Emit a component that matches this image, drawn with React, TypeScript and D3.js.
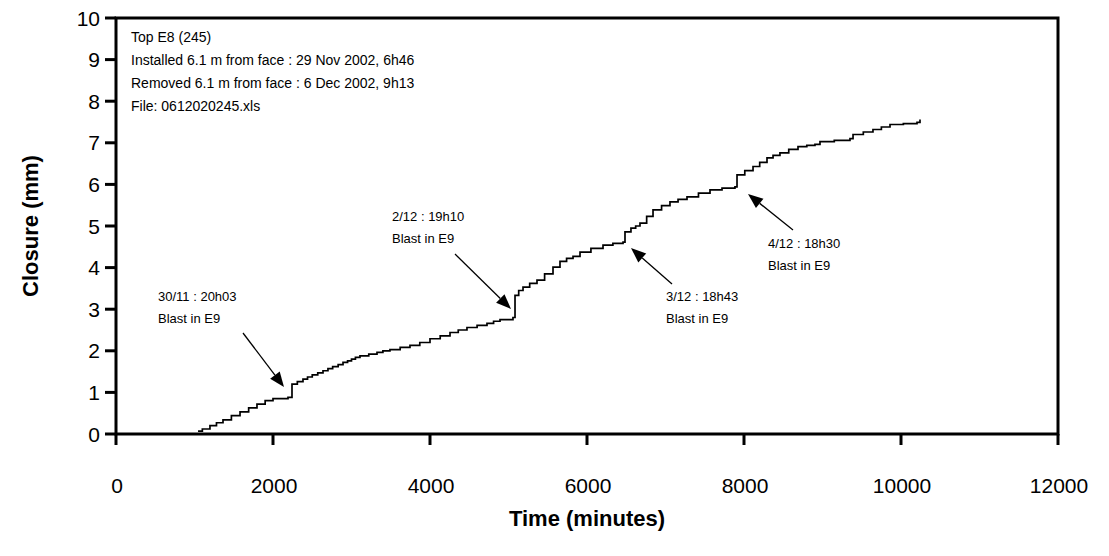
import React from "react";
import * as d3 from "d3";

const times = [1045, 1100, 1197, 1280, 1363, 1470, 1580, 1690, 1796, 1900, 2000, 2191, 2242, 2310, 2382, 2440, 2500, 2570, 2637, 2700, 2760, 2830, 2892, 2950, 3000, 3050, 3108, 3220, 3325, 3400, 3490, 3620, 3745, 3870, 4000, 4130, 4255, 4360, 4471, 4600, 4726, 4810, 4892, 5057, 5083, 5130, 5185, 5270, 5363, 5460, 5567, 5656, 5740, 5822, 5911, 6050, 6204, 6330, 6459, 6484, 6560, 6620, 6675, 6760, 6841, 6950, 7057, 7160, 7274, 7420, 7567, 7720, 7885, 7911, 8010, 8115, 8200, 8293, 8370, 8458, 8570, 8688, 8800, 8904, 8968, 9150, 9350, 9389, 9520, 9643, 9750, 9860, 10030, 10204, 10242];
const closure = [0.07, 0.12, 0.2, 0.27, 0.34, 0.44, 0.53, 0.63, 0.72, 0.8, 0.85, 0.88, 1.2, 1.26, 1.32, 1.37, 1.42, 1.47, 1.52, 1.57, 1.62, 1.67, 1.72, 1.76, 1.8, 1.84, 1.88, 1.92, 1.96, 2.0, 2.03, 2.08, 2.13, 2.2, 2.29, 2.36, 2.44, 2.5, 2.56, 2.61, 2.66, 2.71, 2.75, 2.8, 3.33, 3.45, 3.53, 3.62, 3.7, 3.85, 4.01, 4.15, 4.22, 4.27, 4.37, 4.46, 4.54, 4.58, 4.61, 4.86, 4.95, 5.0, 5.07, 5.23, 5.39, 5.49, 5.58, 5.64, 5.7, 5.79, 5.87, 5.91, 5.94, 6.23, 6.33, 6.43, 6.53, 6.64, 6.7, 6.76, 6.84, 6.91, 6.94, 6.96, 7.03, 7.06, 7.1, 7.2, 7.26, 7.32, 7.38, 7.44, 7.46, 7.49, 7.56];

const xTicks = [0, 2000, 4000, 6000, 8000, 10000, 12000];
const yTicks = [0, 1, 2, 3, 4, 5, 6, 7, 8, 9, 10];

const infoLines = [
  "Top E8 (245)",
  "Installed 6.1 m from face : 29 Nov 2002, 6h46",
  "Removed 6.1 m from face : 6 Dec 2002, 9h13",
  "File: 0612020245.xls",
];

const blastLabels = ["30/11 : 20h03", "2/12 : 19h10", "3/12 : 18h43", "4/12 : 18h30"];
const blastSub = "Blast in E9";

const W = 1109;
const H = 556;
const L = 116, R = 1058, T = 18, B = 434;

export default function App() {
  const x = d3.scaleLinear().domain([0, 12000]).range([L, R]);
  const y = d3.scaleLinear().domain([0, 10]).range([B, T]);
  const data = times.map((t, i) => [t, closure[i]] as [number, number]);
  const line = d3
    .line<[number, number]>()
    .x((d) => x(d[0]))
    .y((d) => y(d[1]))
    .curve(d3.curveStepAfter);

  const ann = [
    { tx: 158, ty: 296, x1: 243, y1: 333, x2: 284, y2: 387 },
    { tx: 392, ty: 216, x1: 455, y1: 254, x2: 511, y2: 309 },
    { tx: 666, ty: 296, x1: 672, y1: 284, x2: 631, y2: 248 },
    { tx: 768, ty: 243, x1: 793, y1: 230, x2: 748, y2: 194 },
  ];

  const arrowHead = (x1: number, y1: number, x2: number, y2: number) => {
    const ang = Math.atan2(y2 - y1, x2 - x1);
    const len = 15, half = 6;
    const bx = x2 - len * Math.cos(ang);
    const by = y2 - len * Math.sin(ang);
    const px = -Math.sin(ang) * half;
    const py = Math.cos(ang) * half;
    return { bx, by, pts: `${x2},${y2} ${bx + px},${by + py} ${bx - px},${by - py}` };
  };

  const font = "Liberation Sans, Arial, sans-serif";

  return (
    <svg width={W} height={H} style={{ position: "absolute", left: 0, top: 0, background: "#fff" }} fontFamily={font}>
      <rect x={0} y={0} width={W} height={H} fill="#fff" />
      <path d={line(data) || ""} fill="none" stroke="#000" strokeWidth={1.7} />
      <rect x={L} y={T} width={R - L} height={B - T} fill="none" stroke="#000" strokeWidth={3} />
      {yTicks.map((v) => (
        <g key={"y" + v}>
          <line x1={L - 11} x2={L} y1={y(v)} y2={y(v)} stroke="#000" strokeWidth={3} />
          <text x={100} y={y(v) + 7.5} textAnchor="end" fontSize={21}>{v}</text>
        </g>
      ))}
      {xTicks.map((v) => (
        <g key={"x" + v}>
          <line x1={x(v)} x2={x(v)} y1={B} y2={B + 11} stroke="#000" strokeWidth={3} />
          <text x={x(v) + 1} y={493} textAnchor="middle" fontSize={21}>{v}</text>
        </g>
      ))}
      <text x={587} y={526} textAnchor="middle" fontSize={22} fontWeight="bold">Time (minutes)</text>
      <text transform={`translate(38,226) rotate(-90)`} textAnchor="middle" fontSize={22} fontWeight="bold">Closure (mm)</text>
      {infoLines.map((s, i) => (
        <text key={s} x={131} y={42 + i * 23} fontSize={14}>{s}</text>
      ))}
      {ann.map((a, i) => {
        const h = arrowHead(a.x1, a.y1, a.x2, a.y2);
        return (
          <g key={"a" + i}>
            <text x={a.tx} y={a.ty + 5} fontSize={13}>{blastLabels[i]}</text>
            <text x={a.tx} y={a.ty + 27} fontSize={13}>{blastSub}</text>
            <line x1={a.x1} y1={a.y1} x2={h.bx} y2={h.by} stroke="#000" strokeWidth={1.3} />
            <polygon points={h.pts} fill="#000" />
          </g>
        );
      })}
    </svg>
  );
}
